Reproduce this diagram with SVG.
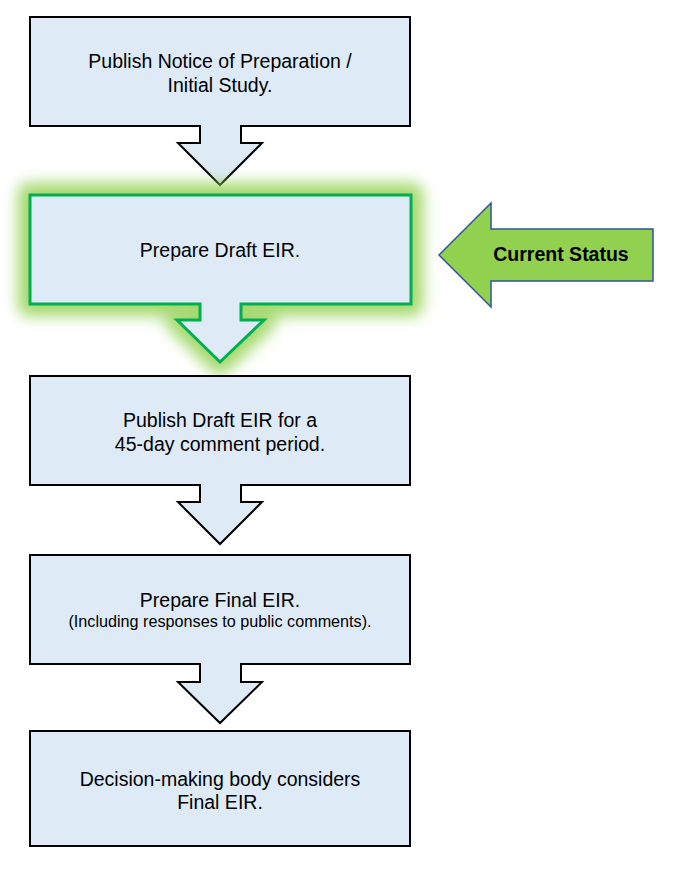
<svg xmlns="http://www.w3.org/2000/svg" width="693" height="877" viewBox="0 0 693 877">
<defs>
<style>
.box{fill:#DEEAF6;stroke:#000;stroke-width:2;stroke-linejoin:miter}
.cur{fill:#DEEAF6;stroke:#00B050;stroke-width:3}
.t{font-family:"Liberation Sans",Arial,sans-serif;font-size:19.5px;fill:#000;text-anchor:middle}
.s{font-family:"Liberation Sans",Arial,sans-serif;font-size:16.2px;fill:#000;text-anchor:middle}
.b{font-family:"Liberation Sans",Arial,sans-serif;font-size:19.5px;font-weight:bold;fill:#000;text-anchor:middle}
</style>
<filter id="glow" x="-20%" y="-30%" width="140%" height="160%">
<feGaussianBlur stdDeviation="7"/>
</filter>
</defs>
<rect width="693" height="877" fill="#fff"/>
<g id="n1">
<path class="box" d="M30,17 H410 V126 H241 V143 H262 L220,185 L178,143 H200 V126 H30 Z"/>
<text class="t" x="220" y="68">Publish Notice of Preparation /</text>
<text class="t" x="220" y="92">Initial Study.</text>
</g>
<g id="n2">
<path d="M30,195 H411 V304 H241 V320 H264 L220,362 L177,320 H200 V304 H30 Z" fill="#92D050" fill-opacity="0.6" stroke="#92D050" stroke-width="26" stroke-opacity="0.75" stroke-linejoin="round" filter="url(#glow)"/>
<path class="cur" d="M30,195 H411 V304 H241 V320 H264 L220,362 L177,320 H200 V304 H30 Z"/>
<text class="t" x="220" y="257">Prepare Draft EIR.</text>
</g>
<g id="n3">
<path class="box" d="M30,376 H410 V485 H241 V502 H262 L220,544 L178,502 H200 V485 H30 Z"/>
<text class="t" x="220" y="427">Publish Draft EIR for a</text>
<text class="t" x="220" y="451">45-day comment period.</text>
</g>
<g id="n4">
<path class="box" d="M30,555 H410 V664 H241 V682 H262 L220,723 L178,682 H200 V664 H30 Z"/>
<text class="t" x="220" y="607">Prepare Final EIR.</text>
<text class="s" x="220" y="627">(Including responses to public comments).</text>
</g>
<g id="n5">
<rect class="box" x="30" y="731" width="380" height="115"/>
<text class="t" x="220" y="786">Decision-making body considers</text>
<text class="t" x="220" y="809">Final EIR.</text>
</g>
<g id="status">
<path d="M439,255 L491,203 V229 H653 V281 H491 V307 Z" fill="#92D050" stroke="#2F5597" stroke-width="1.5"/>
<text class="b" x="561" y="261">Current Status</text>
</g>
<g id="connectors"></g>
</svg>
